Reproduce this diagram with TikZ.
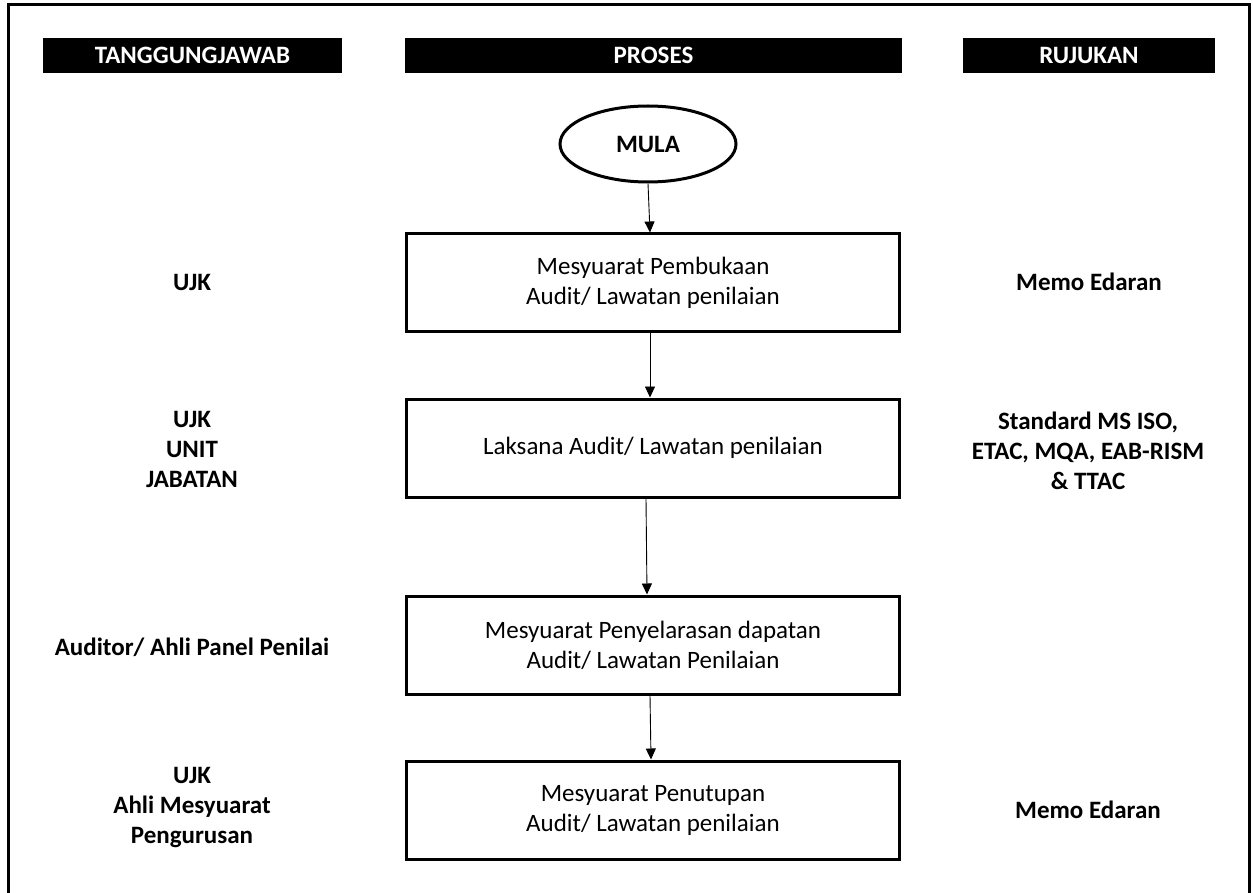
\documentclass[tikz,border=0pt]{standalone}
\usepackage{fontspec}
\setmainfont{Carlito}
\usetikzlibrary{arrows.meta,shapes.geometric}
\begin{document}
\begin{tikzpicture}[x=1pt,y=-1pt,
  txt/.style={font=\fontsize{25}{30}\selectfont, align=center, inner sep=0pt},
  lbl/.style={txt, font=\fontsize{25}{30}\selectfont\bfseries},
  hdr/.style={fill=black, text=white, font=\fontsize{25}{30}\selectfont\bfseries, inner sep=0pt, minimum height=35pt},
  procbox/.style={draw, line width=3pt, txt, minimum width=493pt, minimum height=98pt},
  start/.style={draw, ellipse, line width=3pt, minimum width=176pt, minimum height=76pt, lbl},
  flow/.style={line width=0.9pt, -{Triangle[width=10pt,length=11pt]}}
]
\useasboundingbox (0,0) rectangle (1253,893);
% outer frame (open at bottom)
\draw[line width=3pt] (8,893) -- (8,5) -- (1249,5) -- (1249,893);
% headers
\node[hdr, minimum width=299pt] (h1) at (192.5,55.5) {TANGGUNGJAWAB};
\node[hdr, minimum width=497pt] (h2) at (653.5,55.5) {PROSES};
\node[hdr, minimum width=252pt] (h3) at (1089,55.5) {RUJUKAN};
% process
\node[start] (mula) at (648,144) {MULA};
\node[procbox] (b1) at (653,283) {Mesyuarat Pembukaan\\Audit/ Lawatan penilaian};
\node[procbox] (b2) at (653,448) {Laksana Audit/ Lawatan penilaian};
\node[procbox] (b3) at (653,645) {Mesyuarat Penyelarasan dapatan\\Audit/ Lawatan Penilaian};
\node[procbox] (b4) at (653,810) {Mesyuarat Penutupan\\Audit/ Lawatan penilaian};
\draw[flow] (mula.south) -- ([xshift=-3pt]b1.north);
\draw[flow] ([xshift=-3pt]b1.south) -- ([xshift=-3pt]b2.north);
\draw[flow] ([xshift=-7pt]b2.south) -- ([xshift=-6pt]b3.north);
\draw[flow] ([xshift=-3pt]b3.south) -- ([xshift=-2pt]b4.north);
% responsibilities
\node[lbl] (r1) at (192,282) {UJK};
\node[lbl] (r2) at (192,449) {UJK\\UNIT\\JABATAN};
\node[lbl] (r3) at (192,647) {Auditor/ Ahli Panel Penilai};
\node[lbl] (r4) at (192,808) {UJK\\Ahli Mesyuarat\\Pengurusan};
% references
\node[lbl] (f1) at (1089,282) {Memo Edaran};
\node[lbl] (f2) at (1088,451) {Standard MS ISO,\\ETAC, MQA, EAB-RISM\\\& TTAC};
\node[lbl] (f4) at (1088,810) {Memo Edaran};
\end{tikzpicture}
\end{document}
